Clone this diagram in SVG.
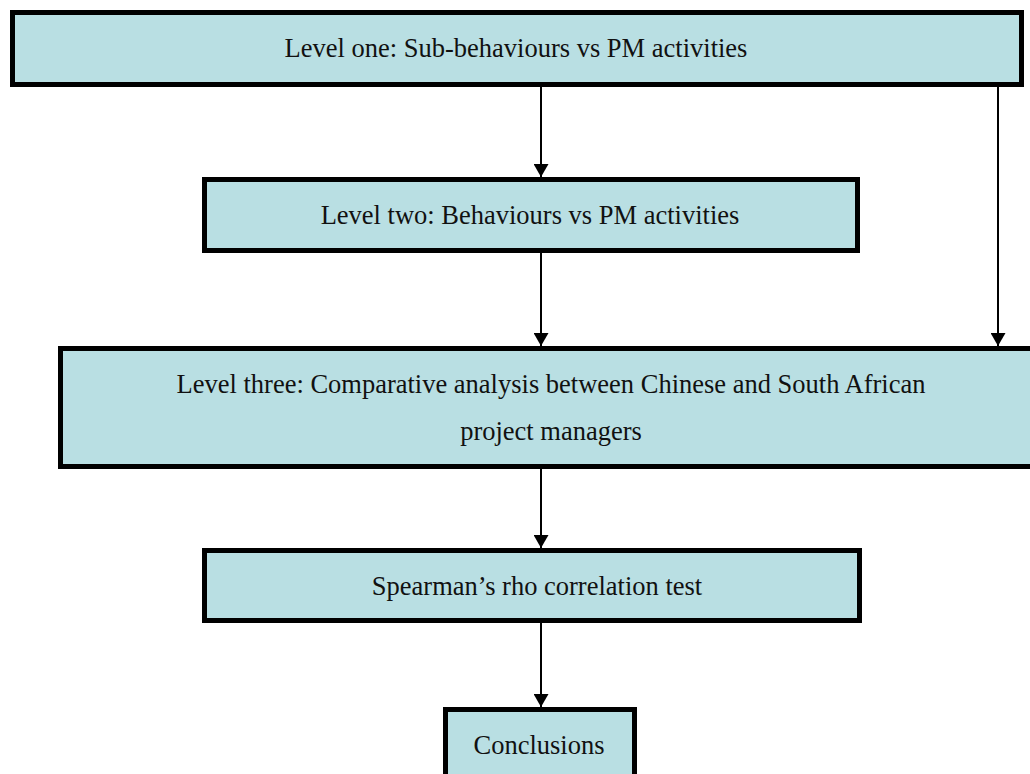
<svg xmlns="http://www.w3.org/2000/svg" width="1030" height="774" viewBox="0 0 1030 774">
<style>
.box{fill:#B9DFE3;stroke:#000;stroke-width:5}
.lbl{font-family:"Liberation Serif","Times New Roman",serif;font-size:26.5px;fill:#111;text-anchor:middle}
.con{stroke:#000;stroke-width:2;fill:none}
</style>
<defs>
<marker id="ah" markerWidth="13" markerHeight="15" refX="13" refY="7.5" orient="auto" markerUnits="userSpaceOnUse">
<path d="M0,0 L13,7.5 L0,15 z" fill="#000"/>
</marker>
</defs>
<rect width="1030" height="774" fill="#fff"/>
<g id="connectors">
<line class="con" x1="541" y1="87" x2="541" y2="177" marker-end="url(#ah)"/>
<line class="con" x1="998" y1="87" x2="998" y2="346" marker-end="url(#ah)"/>
<line class="con" x1="541" y1="253" x2="541" y2="346" marker-end="url(#ah)"/>
<line class="con" x1="541" y1="462" x2="541" y2="548" marker-end="url(#ah)"/>
<line class="con" x1="541" y1="623" x2="541" y2="707" marker-end="url(#ah)"/>
</g>
<g id="level1">
<rect class="box" x="12.5" y="12.5" width="1009" height="72"/>
<text class="lbl" transform="translate(516,57) scale(1,1.07)">Level one: Sub-behaviours vs PM activities</text>
</g>
<g id="level2">
<rect class="box" x="204.5" y="179.5" width="653" height="71"/>
<text class="lbl" transform="translate(530,224) scale(1,1.07)">Level two: Behaviours vs PM activities</text>
</g>
<g id="level3">
<rect class="box" x="60.5" y="348.5" width="981" height="118"/>
<text class="lbl" transform="translate(551,393) scale(1,1.07)">Level three: Comparative analysis between Chinese and South African</text>
<text class="lbl" transform="translate(551,440) scale(1,1.07)">project managers</text>
</g>
<g id="spearman">
<rect class="box" x="204.5" y="550.5" width="655" height="70"/>
<text class="lbl" transform="translate(537,595) scale(1,1.07)">Spearman’s rho correlation test</text>
</g>
<g id="conclusions">
<rect class="box" x="445.5" y="709.5" width="189" height="80"/>
<text class="lbl" transform="translate(539,754) scale(1,1.07)">Conclusions</text>
</g>
</svg>
